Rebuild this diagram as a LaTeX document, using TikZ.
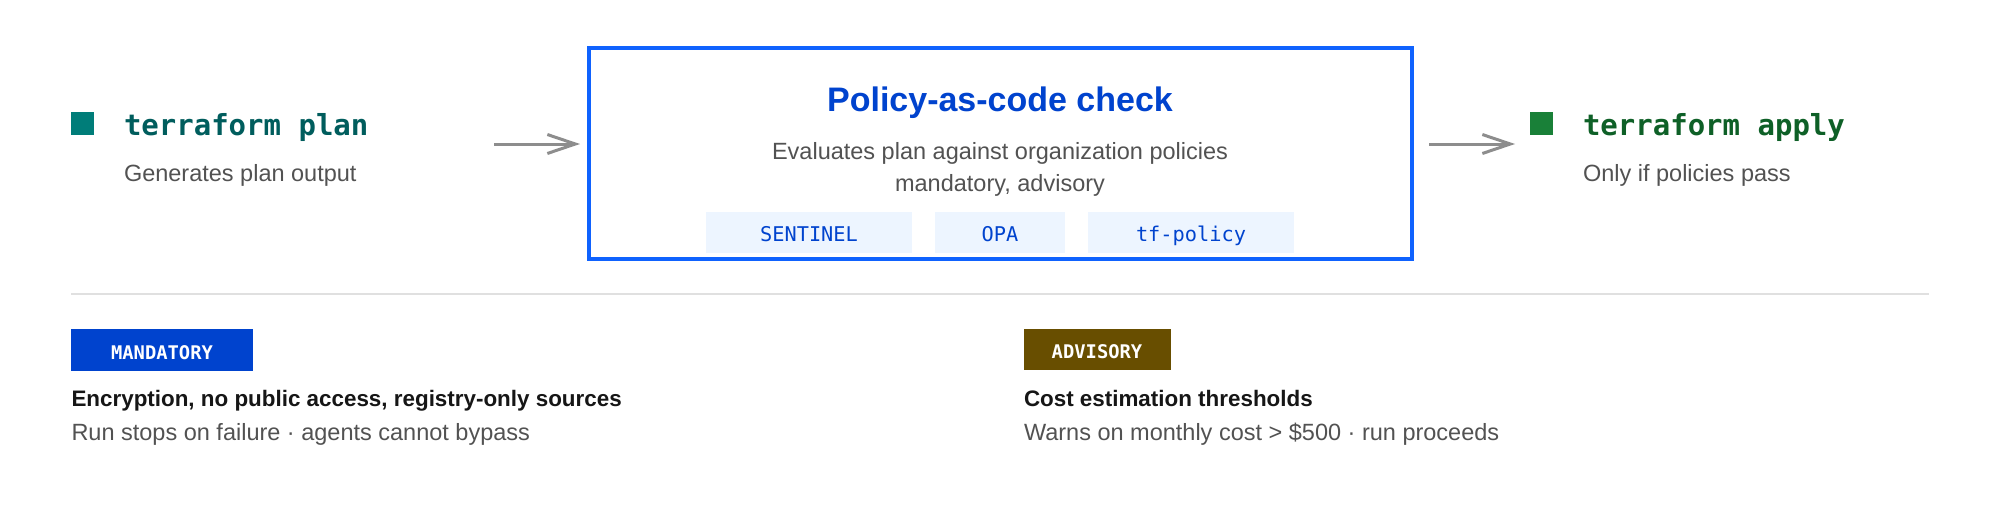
\documentclass[tikz,border=0pt]{standalone}
\usepackage{fontspec}
\setmainfont{Liberation Sans}
\newfontfamily\codefont{DejaVu Sans Mono}
\usetikzlibrary{arrows.meta}
\definecolor{tealsq}{HTML}{007D79}
\definecolor{tealtxt}{HTML}{005D5D}
\definecolor{greensq}{HTML}{198038}
\definecolor{greentxt}{HTML}{0E6027}
\definecolor{txtgray}{HTML}{525252}
\definecolor{titleblue}{HTML}{0043CE}
\definecolor{boxblue}{HTML}{0F62FE}
\definecolor{pillbg}{HTML}{EDF5FF}
\definecolor{advbg}{HTML}{684E00}
\definecolor{headtxt}{HTML}{161616}
\definecolor{sepgray}{HTML}{E0E0E0}
\definecolor{arrowgray}{HTML}{8D8D8D}
\begin{document}
\begin{tikzpicture}[x=1pt,y=-1pt,
  every node/.style={inner sep=0pt, outer sep=0pt},
  sq/.style={minimum size=23pt, draw=none},
  stepname/.style={anchor=base west, font=\codefont\bfseries\fontsize{29}{34}\selectfont},
  desc/.style={anchor=base west, text=txtgray, font=\fontsize{23.5}{28}\selectfont},
  centerdesc/.style={anchor=base, text=txtgray, font=\fontsize{23.5}{28}\selectfont},
  head/.style={anchor=base west, text=headtxt, font=\bfseries\fontsize{22.4}{27}\selectfont},
  pill/.style={fill=pillbg, text=titleblue, minimum height=40.5pt, text height=18.4pt, text depth=0pt, font=\codefont\fontsize{20.3}{24}\selectfont},
  badge/.style={minimum height=41.5pt, text height=18pt, text depth=0pt, text=white, font=\codefont\bfseries\fontsize{18.8}{22}\selectfont},
  flow/.style={draw=arrowgray, line width=3pt, -{Straight Barb[length=28pt,width=19pt,line width=3pt]}},
  sepline/.style={draw=sepgray, line width=2pt}
]
\useasboundingbox[fill=white] (0,0) rectangle (2000,512);

% left step
\node[sq, fill=tealsq] (plansq) at (82.5,123.5) {};
\node[stepname, text=tealtxt] (plan) at (124,135) {terraform plan};
\node[desc] (plandesc) at (124,181.7) {Generates plan output};

% center box
\node[draw=boxblue, line width=4pt, minimum width=823pt, minimum height=211pt] (box) at (1000,153) {};
\node[anchor=base, text=titleblue, font=\bfseries\fontsize{34}{40}\selectfont] (title) at (1000,111.7) {Policy-as-code check};
\node[centerdesc] (eval1) at (1000,159) {Evaluates plan against organization policies};
\node[centerdesc] (eval2) at (1000,191.7) {mandatory, advisory};
\node[pill, minimum width=206pt] (sentinel) at (809,232.5) {SENTINEL};
\node[pill, minimum width=130pt] (opa) at (1000,232.5) {OPA};
\node[pill, minimum width=206pt] (tfpol) at (1191,232.5) {tf-policy};

% right step
\node[sq, fill=greensq] (applysq) at (1541,123.5) {};
\node[stepname, text=greentxt] (apply) at (1583,135) {terraform apply};
\node[desc] (applydesc) at (1583,181.7) {Only if policies pass};

% arrows
\coordinate (s1) at (494,144);
\coordinate (e2) at (1515,144);
\draw[flow, shorten >=8.5pt] (s1) -- (s1 -| box.west);
\draw[flow, shorten <=17.5pt] (e2 -| box.east) -- (e2);

% separator
\coordinate (sepl) at (71,294);
\coordinate (sepr) at (1929,294);
\draw[sepline] (sepl) -- (sepr);

% mandatory
\node[badge, fill=titleblue, minimum width=182pt] (mand) at (162,350) {MANDATORY};
\node[head] (mandhead) at (71.5,406) {Encryption, no public access, registry-only sources};
\node[desc] (manddesc) at (71.5,440) {Run stops on failure · agents cannot bypass};

% advisory
\node[badge, fill=advbg, minimum width=147pt] (adv) at (1097,349.7) {ADVISORY};
\node[head] (advhead) at (1024,406) {Cost estimation thresholds};
\node[desc] (advdesc) at (1024,440) {Warns on monthly cost > \$500 · run proceeds};
\end{tikzpicture}
\end{document}
